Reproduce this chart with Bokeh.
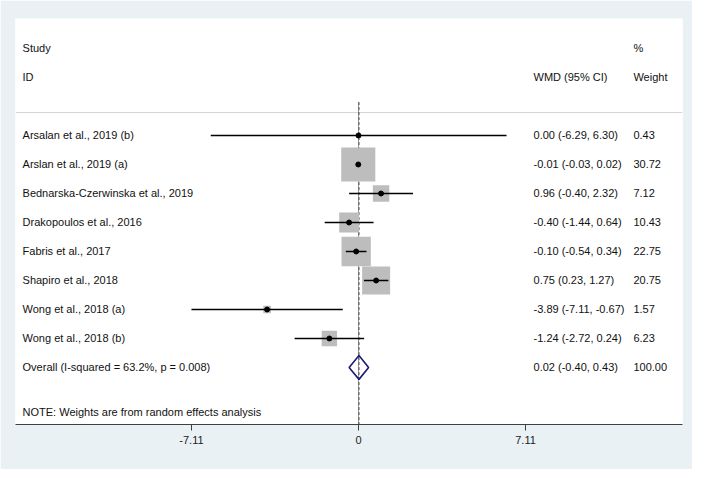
import math
from bokeh.plotting import figure
from bokeh.models import Range1d, FixedTicker, ColumnDataSource
from bokeh.core.properties import value
from bokeh.embed import file_html
from bokeh.resources import INLINE

# ---- data ----
studies = ["Arsalan et al., 2019 (b)", "Arslan et al., 2019 (a)",
           "Bednarska-Czerwinska et al., 2019", "Drakopoulos et al., 2016",
           "Fabris et al., 2017", "Shapiro et al., 2018",
           "Wong et al., 2018 (a)", "Wong et al., 2018 (b)"]
wmd = [0.00, -0.01, 0.96, -0.40, -0.10, 0.75, -3.89, -1.24]
lower = [-6.29, -0.03, -0.40, -1.44, -0.54, 0.23, -7.11, -2.72]
upper = [6.30, 0.02, 2.32, 0.64, 0.34, 1.27, -0.67, 0.24]
weight = [0.43, 30.72, 7.12, 10.43, 22.75, 20.75, 1.57, 6.23]
overall_label = "Overall  (I-squared = 63.2%, p = 0.008)"
overall_est = 0.02
overall_lo = -0.40
overall_hi = 0.43
overall_weight = 100.00
note = "NOTE: Weights are from random effects analysis"
tick_values = [-7.11, 0, 7.11]
tick_labels = ["-7.11", "0", "7.11"]

FONT = value("Liberation Sans")
FS = "11px"

n = len(studies)
rows = list(range(n))
overall_row = n

x_lo, x_hi = -14.60, 13.79
p = figure(width=692, height=469, output_backend="svg", toolbar_location=None,
           x_range=Range1d(x_lo, x_hi), y_range=Range1d(9.966, -4.034),
           min_border_left=15, min_border_right=10, min_border_top=18,
           min_border_bottom=45, y_axis_location=None)
p.background_fill_color = "white"
p.border_fill_color = "#E9F1F4"
p.outline_line_color = None
p.grid.visible = False

ax = p.xaxis[0]
ax.ticker = FixedTicker(ticks=tick_values)
ax.major_label_overrides = {v: t for v, t in zip(tick_values, tick_labels)}
ax.axis_line_color = "#404040"
ax.major_tick_line_color = "#404040"
ax.major_tick_in = 0
ax.major_tick_out = 6
ax.minor_tick_line_color = None
ax.major_label_standoff = 5
ax.major_label_text_font = "Liberation Sans"
ax.major_label_text_font_size = FS
ax.major_label_text_color = "#222222"

# separator under header
p.segment(x0=[x_lo], x1=[x_hi], y0=[-0.79], y1=[-0.79], line_color="#D4D4D4", line_width=1)

# reference lines (null effect solid, overall dashed)
p.segment(x0=[0], x1=[0], y0=[-1.15], y1=[9.966], line_color="#9A9A9A", line_width=1)
p.segment(x0=[overall_est], x1=[overall_est], y0=[-1.15], y1=[9.966],
          line_color="#5A4545", line_width=1, line_dash="3 2")

# boxes
src = ColumnDataSource(dict(y=rows, est=wmd, lo=lower, hi=upper,
                            size=[6.15 * math.sqrt(w) for w in weight]))
p.scatter(x="est", y="y", size="size", marker="square", source=src,
          fill_color="#BDBDBD", line_color=None)
# CIs
p.segment(x0="lo", x1="hi", y0="y", y1="y", source=src, line_color="black", line_width=1.5)
# points
p.scatter(x="est", y="y", size=5, marker="circle", source=src,
          fill_color="black", line_color="black")

# overall diamond
dh = 0.41
p.patch(x=[overall_lo, overall_est, overall_hi, overall_est],
        y=[overall_row, overall_row - dh, overall_row, overall_row + dh],
        fill_color="white", fill_alpha=0.0, line_color="#1C1C78", line_width=1.6)

# text columns
x_study = -14.30
x_ci = 7.45
x_w = 11.70
labels = studies + [overall_label]
ci_text = [f"{m:.2f} ({l:.2f}, {u:.2f})" for m, l, u in zip(wmd, lower, upper)] + \
          [f"{overall_est:.2f} ({overall_lo:.2f}, {overall_hi:.2f})"]
w_text = [f"{w:.2f}" for w in weight] + [f"{overall_weight:.2f}"]
ys = rows + [overall_row]

common = dict(text_font=FONT, text_font_size=FS, text_baseline="middle",
              text_align="left", text_color="#111111")
p.text(x=[x_study] * len(ys), y=ys, text=labels, **common)
p.text(x=[x_ci] * len(ys), y=ys, text=ci_text, **common)
p.text(x=[x_w] * len(ys), y=ys, text=w_text, **common)

# headers
p.text(x=[x_study, x_study, x_ci, x_w, x_w], y=[-3.0, -2.0, -2.0, -3.0, -2.0],
       text=["Study", "ID", "WMD (95% CI)", "%", "Weight"], **common)
# note
p.text(x=[x_study], y=[9.52], text=[note], **common)

open("out.html", "w").write(file_html(p, INLINE))
